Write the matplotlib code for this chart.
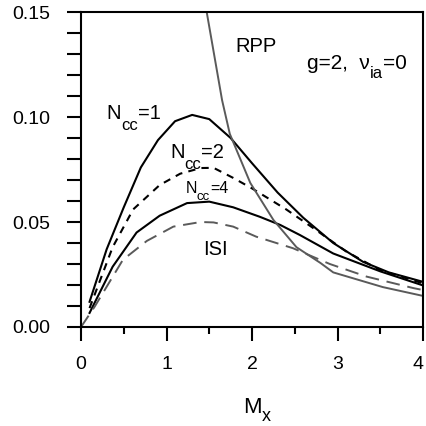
import matplotlib
matplotlib.use('Agg')
import matplotlib.pyplot as plt
from matplotlib.ticker import MultipleLocator, FormatStrFormatter

plt.rcParams['font.family'] = ['Liberation Sans', 'DejaVu Sans']

# curves
mx_n1 = [0.1, 0.3, 0.5, 0.7, 0.9, 1.1, 1.3, 1.5, 1.75, 2.0, 2.3, 2.6, 2.95, 3.3, 3.6, 4.0]
ncc1 = [0.012, 0.037, 0.057, 0.076, 0.089, 0.098, 0.101, 0.099, 0.090, 0.078, 0.064, 0.052, 0.040, 0.031, 0.026, 0.0215]

mx_n2 = [0.1, 0.37, 0.61, 0.92, 1.16, 1.4, 1.55, 1.78, 2.0, 2.4, 2.72, 3.1, 3.5, 4.0]
ncc2 = [0.009, 0.038, 0.056, 0.0676, 0.073, 0.0757, 0.0758, 0.071, 0.066, 0.056, 0.047, 0.036, 0.027, 0.0208]

mx_n4 = [0.1, 0.37, 0.65, 0.92, 1.24, 1.5, 1.78, 2.09, 2.33, 2.56, 2.95, 3.5, 4.0]
ncc4 = [0.0067, 0.0287, 0.045, 0.053, 0.059, 0.0597, 0.057, 0.0525, 0.0486, 0.0438, 0.035, 0.0265, 0.0198]

mx_isi = [0.0, 0.16, 0.49, 0.77, 1.08, 1.4, 1.55, 1.78, 2.05, 2.48, 2.91, 3.34, 3.89, 4.0]
isi = [0.0, 0.0097, 0.032, 0.041, 0.0478, 0.050, 0.0498, 0.0478, 0.043, 0.0375, 0.030, 0.024, 0.0185, 0.0176]

mx_rpp = [1.47, 1.65, 1.74, 1.98, 2.25, 2.52, 2.80, 2.95, 3.53, 4.0]
rpp = [0.15, 0.108, 0.092, 0.0686, 0.051, 0.038, 0.0305, 0.026, 0.019, 0.0148]

x_ticks = [0, 1, 2, 3, 4]

fig = plt.figure(figsize=(4.27, 4.26), dpi=100)
ax = fig.add_axes([0.1897, 0.2324, 0.801, 0.7394])
renderer = fig.canvas.get_renderer()


def pieces(x, y, parts, coords='data'):
    # write text pieces one after another, subscripts dropped by a few points
    dx = 0.0
    for s, size, drop in parts:
        t = ax.annotate(s, xy=(x, y), xycoords=coords, xytext=(dx, -drop),
                        textcoords='offset points', fontsize=size,
                        ha='left', va='baseline', annotation_clip=False)
        dx += t.get_window_extent(renderer).width * 72.0 / fig.dpi


grey = '#5a5a5a'
ax.plot(mx_n1, ncc1, color='black', lw=1.5)
ax.plot(mx_n2, ncc2, color='black', lw=1.5, dashes=(3.5, 3))
ax.plot(mx_n4, ncc4, color='black', lw=1.5)
ax.plot(mx_isi, isi, color=grey, lw=1.4, dashes=(7, 4))
ax.plot(mx_rpp, rpp, color=grey, lw=1.4)

ax.set_xlim(0, 4)
ax.set_ylim(0, 0.15)
ax.set_xticks(x_ticks)
ax.xaxis.set_minor_locator(MultipleLocator(0.5))
ax.yaxis.set_major_locator(MultipleLocator(0.05))
ax.yaxis.set_minor_locator(MultipleLocator(0.01))
ax.yaxis.set_major_formatter(FormatStrFormatter('%.2f'))

ax.tick_params(which='both', direction='out', width=1.5, labelsize=14)
ax.tick_params(axis='y', which='both', length=10, pad=12)
ax.tick_params(axis='x', which='major', length=10, pad=11)
ax.tick_params(axis='x', which='minor', length=5)
for s in ax.spines.values():
    s.set_linewidth(1.5)

# last x label sits right at the edge, keep it inside the figure
ax.xaxis.get_major_ticks()[len(x_ticks) - 1].label1.set_horizontalalignment('right')

# M_x axis label
pieces(0.474, -0.273, [('M', 16, 0), ('x', 13, 6)], coords='axes fraction')

pieces(0.30, 0.099, [('N', 14.5, 0), ('cc', 12, 8), ('=1', 14.5, 0)])
pieces(1.04, 0.0805, [('N', 14.5, 0), ('cc', 12, 8), ('=2', 14.5, 0)])
pieces(1.22, 0.0638, [('N', 11.5, 0), ('cc', 9.5, 5), ('=4', 11.5, 0)])
ax.text(1.43, 0.0343, 'ISI', fontsize=14.5)
ax.text(1.81, 0.131, 'RPP', fontsize=14.5)
pieces(2.64, 0.1227, [('g=2,  \u03bd', 15, 0), ('ia', 12, 6.5), ('=0', 15, 0)])

fig.savefig('out.png', dpi=100)
